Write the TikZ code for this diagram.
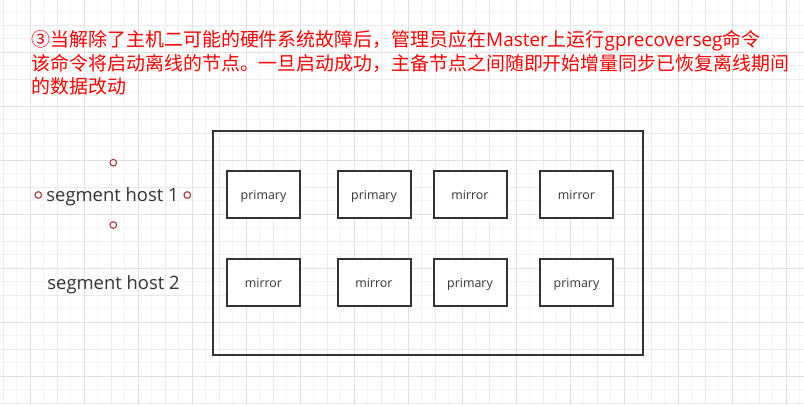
\documentclass[tikz,border=0pt]{standalone}
\usepackage{fontspec}
\usepackage{tikz}
\usetikzlibrary{positioning}
\setmainfont{Noto Sans CJK SC}
\newfontfamily\labelfont{Open Sans}
\definecolor{inkgray}{HTML}{333333}
\definecolor{handlered}{HTML}{9E3535}
\definecolor{gridfine}{HTML}{F4F4F4}
\definecolor{gridmid}{HTML}{EBEBEB}
\definecolor{gridmajor}{HTML}{E0E0E0}

\begin{document}
\begin{tikzpicture}[x=0.75pt,y=-0.75pt,
  seg node/.style={rectangle,draw=inkgray,line width=1.5pt,fill=white,
    minimum width=54.75pt,minimum height=35.25pt,inner sep=0pt,
    text height=0.95em,text depth=0.2em,
    text=inkgray,font=\labelfont\fontsize{9.3}{11}\selectfont},
  host node/.style={inner sep=0pt,text=inkgray,
    text height=0.74em,text depth=0.2em,
    font=\labelfont\fontsize{13.8}{16}\selectfont},
  handle node/.style={circle,draw=handlered,line width=0.8pt,fill=white,
    minimum size=5pt,inner sep=0pt},
  note node/.style={inner sep=0pt,align=left,text=red,
    font=\fontsize{14.2}{17.6}\selectfont}]
  \useasboundingbox (0,0) rectangle (804,405);
  \fill[white] (0,0) rectangle (804,405);
  % background grid
  \foreach \gx in {16.8,43.8,...,804} \draw[gridfine,line width=0.75pt] (\gx,0) -- (\gx,405);
  \foreach \gy in {11.8,38.8,...,405} \draw[gridfine,line width=0.75pt] (0,\gy) -- (804,\gy);
  \foreach \gx in {3.3,57.3,...,804} \draw[gridmid,line width=0.75pt] (\gx,0) -- (\gx,405);
  \foreach \gy in {25.3,79.3,...,405} \draw[gridmid,line width=0.75pt] (0,\gy) -- (804,\gy);
  \foreach \gx in {30.3,84.3,...,804} \draw[gridmajor,line width=0.75pt] (\gx,0) -- (\gx,405);
  \foreach \gy in {52.3,106.3,...,405} \draw[gridmajor,line width=0.75pt] (0,\gy) -- (804,\gy);

  \node[note node,anchor=north west] (note) at (31.5,30.3)
    {③当解除了主机二可能的硬件系统故障后，管理员应在{\labelfont Master}上运行{\labelfont gprecoverseg}命令\\
     该命令将启动离线的节点。一旦启动成功，主备节点之间随即开始增量同步已恢复离线期间\\
     的数据改动};

  \node[draw=inkgray,line width=1.5pt,minimum width=322.5pt,minimum height=168pt,
    inner sep=0pt] (cluster) at (428,243) {};

  \node[seg node] (1) at (263.5,194.3) {primary};
  \node[seg node] (2) at (374,194.3) {primary};
  \node[seg node] (3) at (470,194.3) {mirror};
  \node[seg node] (4) at (576.5,194.3) {mirror};
  \node[seg node] (5) at (263.5,282) {mirror};
  \node[seg node] (6) at (374,282) {mirror};
  \node[seg node] (7) at (470,282) {primary};
  \node[seg node] (8) at (576.5,282) {primary};

  \node[host node] (host1) at (112.5,198) {segment host 1};
  \node[host node] (host2) at (113.5,286) {segment host 2};

  \node[handle node] (h1) at (113.3,162.7) {};
  \node[handle node] (h2) at (113.3,225) {};
  \node[handle node] (h3) at (38.3,195) {};
  \node[handle node] (h4) at (187.3,195) {};
\end{tikzpicture}
\end{document}
